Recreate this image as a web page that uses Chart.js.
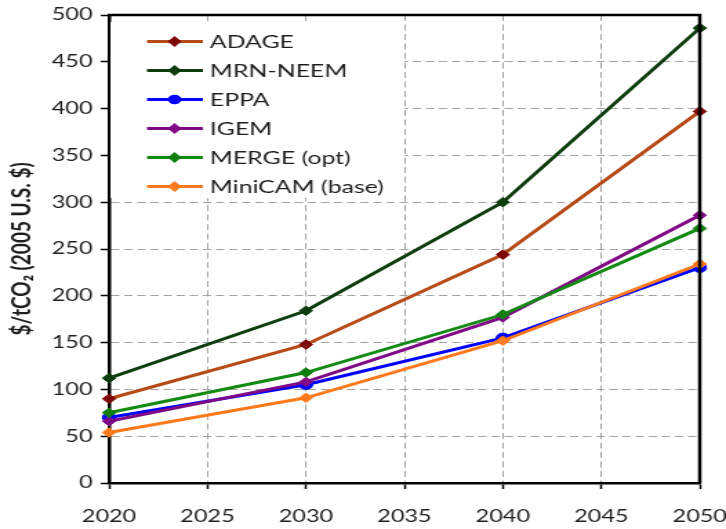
<!DOCTYPE html>
<html>
<head>
<meta charset="utf-8">
<script src="https://cdn.jsdelivr.net/npm/chart.js@4/dist/chart.umd.min.js"></script>
<style>
  html, body { margin: 0; padding: 0; background: #fff; overflow: hidden; }
  #wrap { width: 726px; height: 529px; overflow: hidden; }
  #c { display: block; transform: scaleX(1.3802); transform-origin: 0 0; }
</style>
</head>
<body>
<div id="wrap"><canvas id="c" width="526" height="529"></canvas></div>
<script>
// ---- Data ----
const years   = [2020, 2030, 2040, 2050];
const adage   = [90, 148, 244, 397];
const mrnNeem = [112, 184, 300, 486];
const eppa    = [70, 105, 155, 230];
const igem    = [66, 108, 177, 286];
const merge   = [75, 118, 180, 272];
const minicam = [54, 91, 152, 234];

const seriesNames = ['ADAGE', 'MRN-NEEM', 'EPPA', 'IGEM', 'MERGE (opt)', 'MiniCAM (base)'];
const xTickLabels = [2020, 2025, 2030, 2035, 2040, 2045, 2050];
const yTickLabels = [0, 50, 100, 150, 200, 250, 300, 350, 400, 450, 500];
const yTitle = '$/tCO\u2082 (2005 U.S. $)';

// ---- Styles ----
const styles = [
  { line: '#b54a17', point: '#7d0606', shape: 'rectRot' },
  { line: '#0d3d0d', point: '#0d3d0d', shape: 'rectRot' },
  { line: '#0000ff', point: '#0000ff', shape: 'circle' },
  { line: '#800a86', point: '#800a86', shape: 'rectRot' },
  { line: '#138a13', point: '#0f7f0f', shape: 'rectRot' },
  { line: '#ff7a1c', point: '#ff7a1c', shape: 'rectRot' }
];
const values = [adage, mrnNeem, eppa, igem, merge, minicam];

const datasets = values.map((vals, i) => ({
  label: seriesNames[i],
  data: years.map((yr, j) => ({ x: yr, y: vals[j] })),
  borderColor: styles[i].line,
  backgroundColor: styles[i].point,
  pointBackgroundColor: styles[i].point,
  pointBorderColor: styles[i].point,
  pointStyle: styles[i].shape,
  pointRadius: 4.8,
  pointBorderWidth: 1,
  borderWidth: 3,
  tension: 0,
  clip: false,
  order: values.length - i
}));

const FONT = 'Lato, "DejaVu Sans", sans-serif';
const TEXT = '#1e1e1e';

const framePlugin = {
  id: 'frame',
  beforeDatasetsDraw(chart) {
    const { ctx } = chart;
    // legend box (covers grid lines)
    const bx = 80, by = 22, bw = 213, bh = 176;
    ctx.save();
    ctx.fillStyle = '#ffffff';
    ctx.fillRect(bx, by, bw, bh);
    const rowY0 = 41.5, rowStep = 29;
    chart.data.datasets.forEach((ds, i) => {
      const y = rowY0 + i * rowStep;
      ctx.strokeStyle = ds.borderColor;
      ctx.lineWidth = 3;
      ctx.setLineDash([]);
      ctx.beginPath();
      ctx.moveTo(106.5, y);
      ctx.lineTo(147, y);
      ctx.stroke();
      ctx.fillStyle = ds.pointBackgroundColor;
      ctx.beginPath();
      if (ds.pointStyle === 'circle') {
        ctx.arc(126.5, y, 4.8, 0, Math.PI * 2);
      } else {
        ctx.moveTo(126.5, y - 5.5);
        ctx.lineTo(131.5, y);
        ctx.lineTo(126.5, y + 5.5);
        ctx.lineTo(121.5, y);
        ctx.closePath();
      }
      ctx.fill();
      ctx.fillStyle = TEXT;
      ctx.font = '18px ' + FONT;
      ctx.textAlign = 'left';
      ctx.textBaseline = 'middle';
      ctx.fillText(ds.label, 152, y + 1);
    });
    ctx.restore();
  },
  afterDraw(chart) {
    const { ctx, chartArea: a } = chart;
    ctx.save();
    ctx.strokeStyle = '#000';
    ctx.lineWidth = 2.5;
    ctx.beginPath();
    ctx.moveTo(a.left - 1, a.top);
    ctx.lineTo(a.right, a.top);
    ctx.lineTo(a.right, a.bottom);
    ctx.stroke();
    ctx.restore();
  }
};

new Chart(document.getElementById('c'), {
  type: 'line',
  data: { datasets },
  plugins: [framePlugin],
  options: {
    responsive: false,
    animation: false,
    devicePixelRatio: 1,
    layout: { padding: { top: 15, right: 19, bottom: 0, left: 0 } },
    plugins: { legend: { display: false }, tooltip: { enabled: false } },
    scales: {
      x: {
        type: 'linear',
        min: xTickLabels[0],
        max: xTickLabels[xTickLabels.length - 1],
        afterBuildTicks: s => { s.ticks = xTickLabels.map(v => ({ value: v })); },
        afterFit: s => { s.height = 46; s.paddingLeft = 0; s.paddingRight = 0; },
        grid: { color: '#a3a3a3', lineWidth: 1, tickColor: '#000', tickLength: 6, tickWidth: 1.5 },
        border: { color: '#000', width: 2.5, dash: [6, 3.5] },
        ticks: { color: TEXT, font: { family: FONT, size: 17 }, padding: 17, maxRotation: 0,
                 callback: v => String(v) }
      },
      y: {
        min: yTickLabels[0],
        max: yTickLabels[yTickLabels.length - 1],
        afterBuildTicks: s => { s.ticks = yTickLabels.map(v => ({ value: v })); },
        afterFit: s => { s.width = 79; s.paddingTop = 0; s.paddingBottom = 0; },
        grid: { color: '#a3a3a3', lineWidth: 1, tickColor: '#000', tickLength: 6, tickWidth: 1.5 },
        border: { color: '#000', width: 2.5, dash: [6, 3.5] },
        ticks: { color: TEXT, font: { family: FONT, size: 17 }, padding: 6,
                 callback: v => String(v) },
        title: { display: true, text: yTitle, color: TEXT,
                 font: { family: FONT, size: 19, weight: 'bold' }, padding: { top: 4, bottom: 0 } }
      }
    }
  }
});
</script>
</body>
</html>
